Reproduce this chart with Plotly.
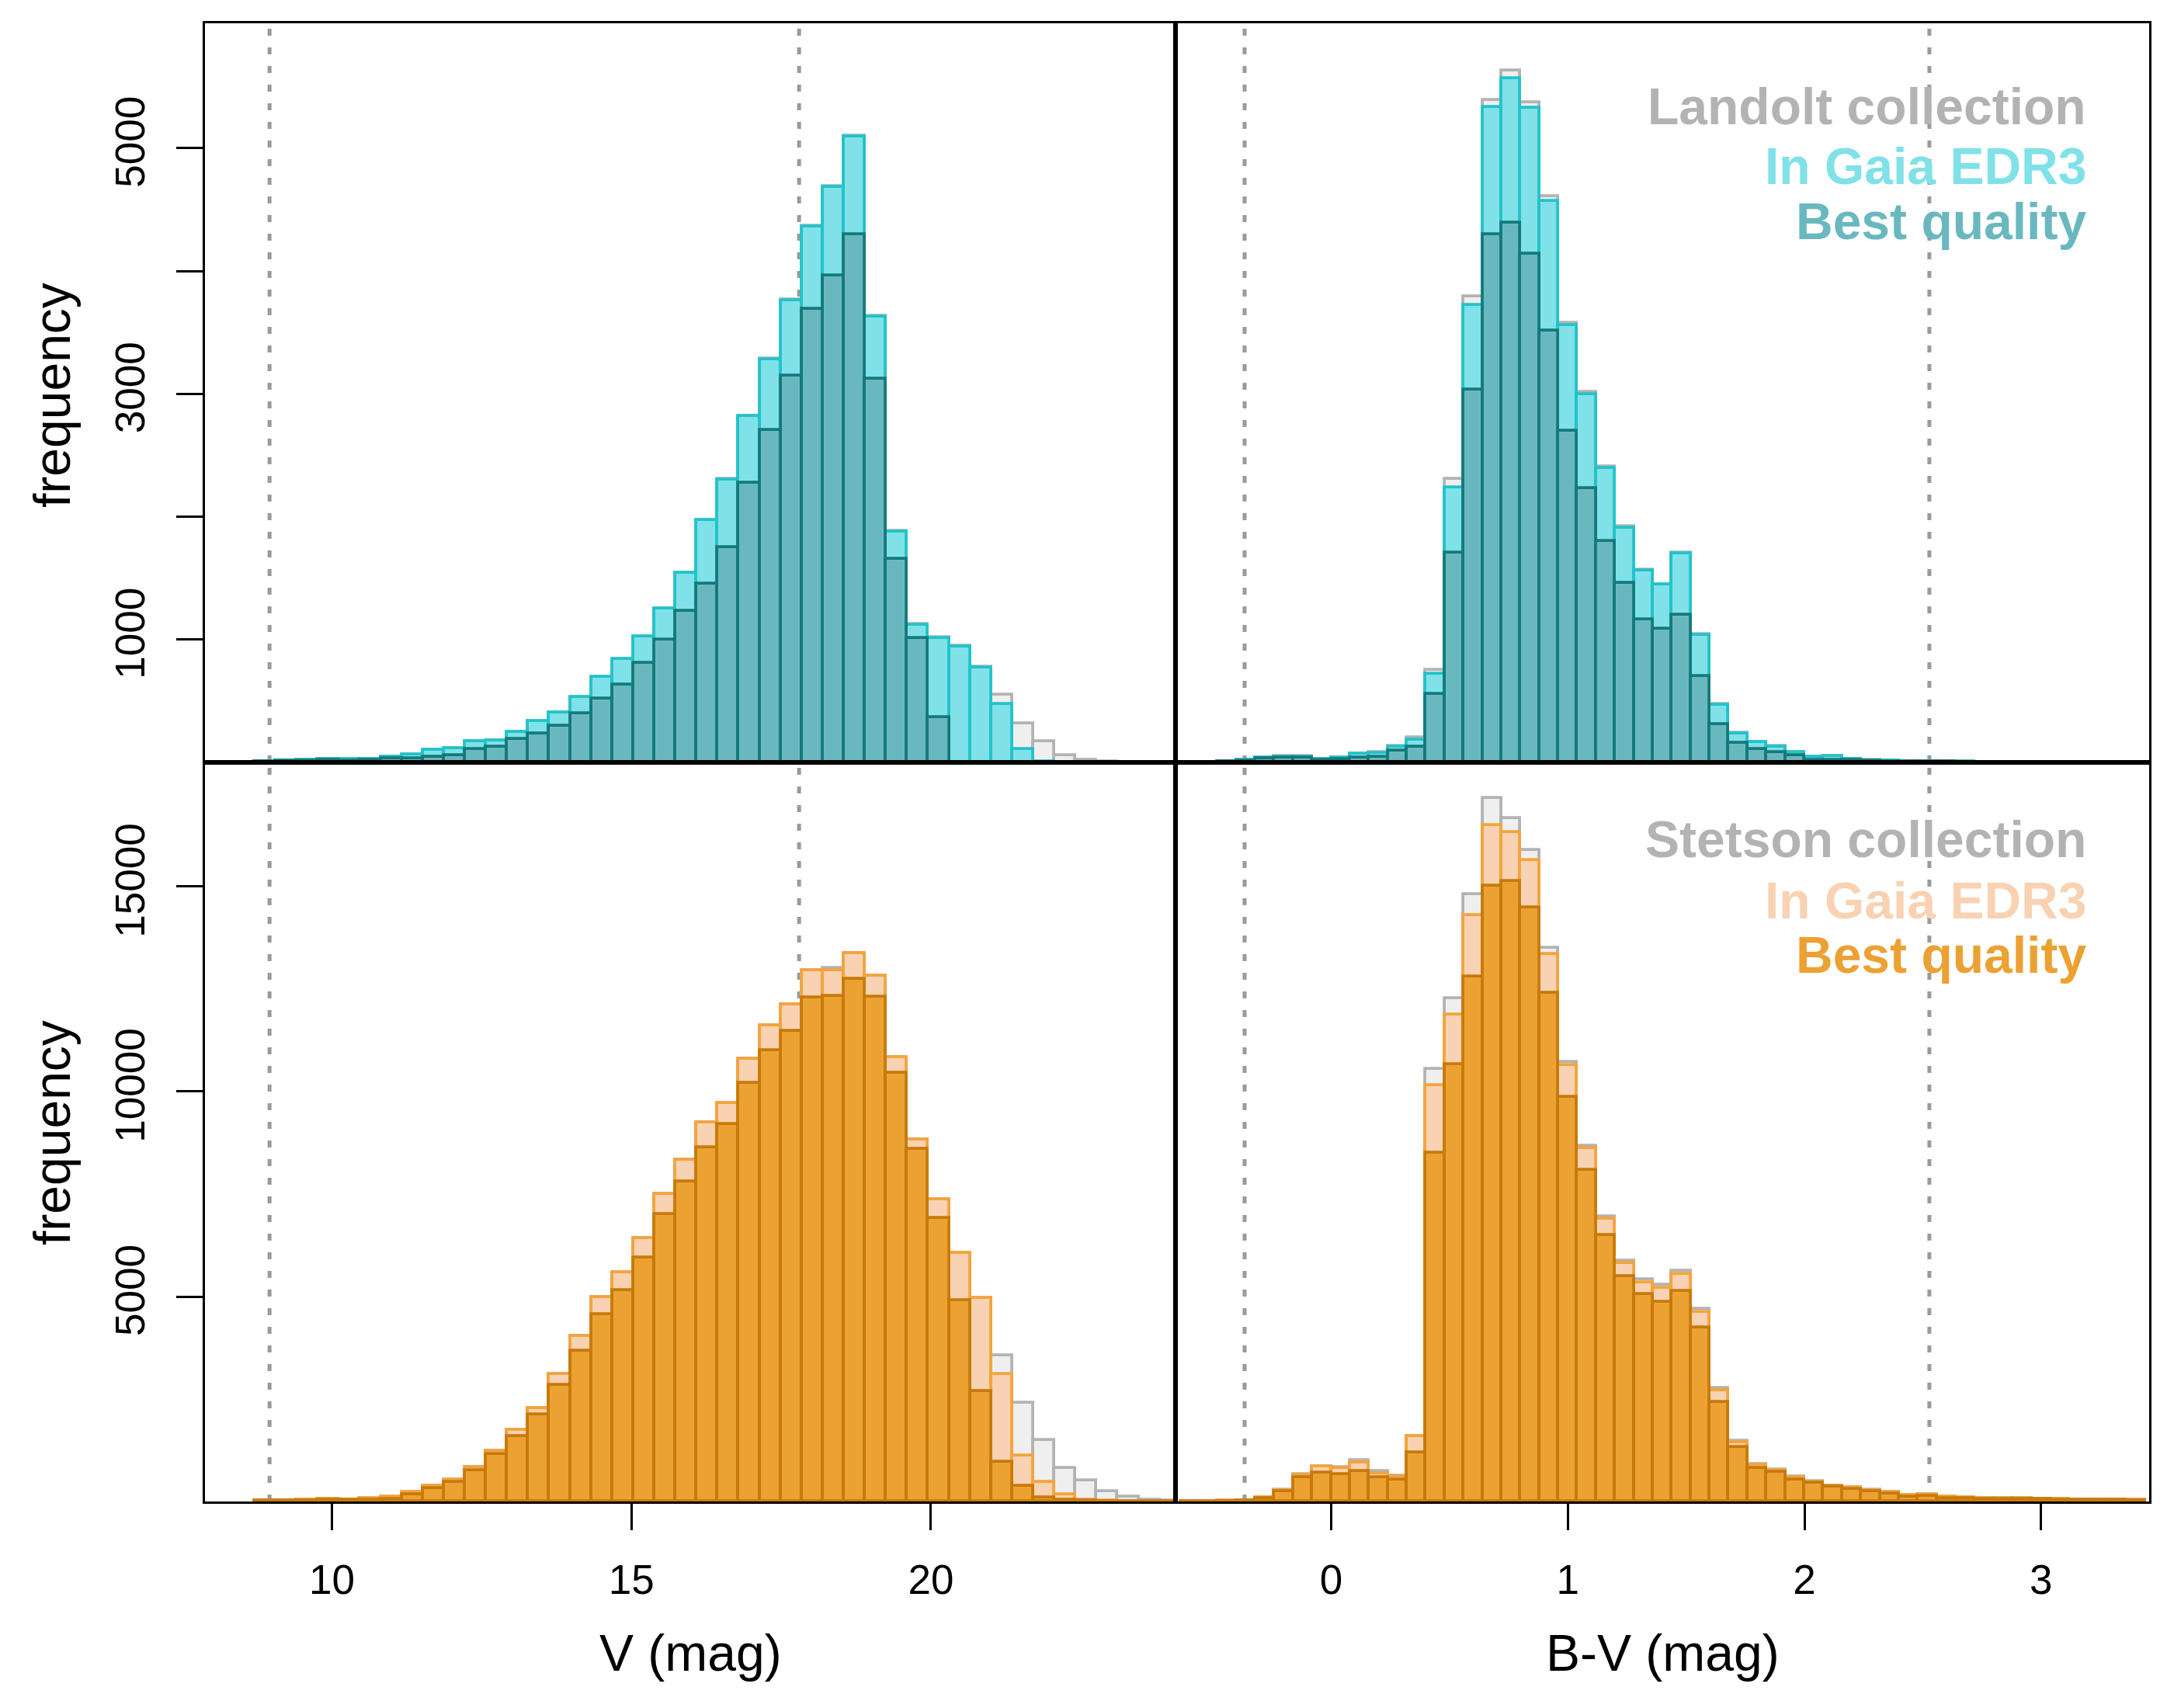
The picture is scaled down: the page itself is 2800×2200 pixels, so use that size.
import numpy as np
import plotly.graph_objects as go

# ---------------- data ----------------
# V (mag) histogram bins: left edges start at 8.71, width 0.3514 mag (44 bins)
V_BIN_START = 8.71
V_BIN_WIDTH = 0.3514
V_NBINS = 44
# B-V (mag) histogram bins: left edges from -0.64, width 0.08 mag (51 bins)
BV_BIN_START = -0.64
BV_BIN_WIDTH = 0.08
BV_NBINS = 51

# Landolt collection (top row)
landolt_v_all = [8, 15, 17, 23, 23, 27, 46, 65, 101, 116, 169, 179, 247, 338, 405, 530, 692, 840, 1023,
                 1250, 1542, 1974, 2304, 2820, 3283, 3769, 4367, 4690, 5102, 3634, 1884, 1122, 1019, 946,
                 776, 551, 318, 171, 54, 16, 4, 0, 0, 0]
landolt_v_gaia = [8, 15, 17, 23, 23, 27, 46, 65, 101, 116, 169, 179, 247, 338, 405, 530, 692, 840, 1023,
                  1249, 1540, 1971, 2300, 2816, 3278, 3763, 4360, 4682, 5093, 3627, 1878, 1117, 1013, 939,
                  768, 473, 109, 4, 0, 0, 0, 0, 0, 0]
landolt_v_best = [6, 11, 13, 17, 15, 17, 30, 32, 46, 59, 110, 127, 190, 236, 300, 395, 517, 633, 808,
                  998, 1230, 1455, 1753, 2273, 2704, 3150, 3689, 3964, 4298, 3119, 1653, 1009, 365, 0,
                  0, 0, 0, 0, 0, 0, 0, 0, 0, 0]

landolt_bv_all = [0, 2, 8, 20, 40, 48, 48, 24, 40, 72, 80, 131, 202, 749, 2308, 3790, 5392, 5632, 5373,
                  4605, 3577, 3014, 2405, 1920, 1566, 1450, 1708, 1040, 472, 238, 164, 131, 85, 47, 50,
                  28, 16, 14, 9, 8, 6, 4, 3, 3, 2, 2, 1, 1, 0, 0, 0]
landolt_bv_gaia = [0, 2, 8, 19, 39, 47, 47, 23, 39, 70, 78, 128, 186, 718, 2238, 3724, 5334, 5567, 5326,
                   4566, 3557, 2995, 2394, 1911, 1558, 1444, 1701, 1034, 468, 236, 162, 129, 84, 46, 49,
                   27, 15, 13, 8, 8, 6, 4, 3, 3, 2, 2, 1, 1, 0, 0, 0]
landolt_bv_best = [0, 0, 5, 15, 31, 39, 39, 19, 27, 35, 47, 97, 128, 559, 1707, 3034, 4298, 4395, 4139,
                   3511, 2696, 2231, 1804, 1462, 1165, 1084, 1203, 703, 310, 160, 105, 84, 57, 21, 21,
                   17, 11, 9, 6, 6, 4, 3, 2, 2, 1, 1, 0, 0, 0, 0, 0]

# Stetson collection (bottom row)
stetson_v_all = [19, 25, 32, 51, 44, 76, 120, 221, 380, 531, 836, 1222, 1741, 2279, 3110, 4033, 4987,
                 5590, 6415, 7508, 8334, 9233, 9724, 10787, 11605, 12130, 12948, 13018, 13380, 12820,
                 10834, 8824, 7364, 6056, 4969, 3567, 2399, 1488, 822, 507, 238, 121, 47, 20]
stetson_v_gaia = [19, 25, 32, 51, 44, 76, 120, 221, 380, 531, 836, 1222, 1741, 2279, 3110, 4033, 4987,
                  5590, 6415, 7508, 8334, 9233, 9724, 10787, 11605, 12130, 12948, 12948, 13380, 12820,
                  10834, 8824, 7364, 6056, 4969, 3100, 1114, 472, 180, 47, 10, 3, 0, 0]
stetson_v_best = [13, 19, 25, 38, 32, 44, 51, 171, 329, 475, 760, 1152, 1595, 2120, 2850, 3666, 4568,
                  5150, 5950, 7010, 7808, 8637, 9198, 10203, 11009, 11476, 12294, 12329, 12738, 12305,
                  10460, 8591, 6920, 4911, 2691, 970, 379, 93, 47, 20, 5, 0, 0, 0]

stetson_bv_all = [6, 6, 10, 21, 102, 278, 655, 858, 835, 997, 740, 620, 1600, 10541, 12270, 14817, 17154,
                  16675, 15892, 13497, 10728, 8672, 6955, 5869, 5420, 5283, 5631, 4701, 2771, 1474, 905,
                  768, 601, 486, 384, 340, 275, 224, 148, 167, 115, 102, 83, 77, 71, 64, 58, 45, 39, 39, 33]
stetson_bv_gaia = [6, 6, 10, 20, 100, 273, 647, 845, 822, 939, 682, 612, 1582, 10144, 11873, 14303, 16499,
                   16324, 15635, 13345, 10646, 8614, 6897, 5822, 5350, 5205, 5543, 4625, 2708, 1430, 892,
                   759, 595, 481, 380, 336, 272, 222, 146, 165, 114, 101, 82, 76, 70, 63, 57, 44, 38, 38, 32]
stetson_bv_best = [5, 5, 8, 15, 85, 238, 589, 705, 670, 740, 589, 530, 1196, 8509, 10658, 12808, 15016,
                   15133, 14490, 12399, 9876, 8088, 6488, 5495, 5055, 4868, 5125, 4239, 2423, 1329, 823,
                   715, 538, 449, 354, 304, 241, 190, 114, 133, 82, 70, 63, 63, 57, 50, 44, 38, 32, 32, 25]

# dotted reference lines
v_cuts = [8.96, 17.8]
bv_cuts = [-0.366, 2.528]

# tick values / labels
top_ytick_vals = [1000, 2000, 3000, 4000, 5000]
top_ytick_text = ["1000", "", "3000", "", "5000"]
bot_ytick_vals = [5000, 10000, 15000]
bot_ytick_text = ["5000", "10000", "15000"]
v_ticks = [10, 15, 20]
bv_ticks = [0, 1, 2, 3]

legend_top = ["Landolt collection", "In Gaia EDR3", "Best quality"]
legend_bot = ["Stetson collection", "In Gaia EDR3", "Best quality"]

# ---------------- styles ----------------
FONT = "Liberation Sans, Arial, Helvetica, sans-serif"
GRAY_FILL, GRAY_LINE = "#efefef", "#b3b3b3"
CYAN_FILL, CYAN_LINE = "#80e1e8", "#22c3c9"
TEAL_FILL, TEAL_LINE = "#6ab8bf", "#137a7c"
PEACH_FILL, PEACH_LINE = "#f8d2b2", "#f4a43c"
ORANGE_FILL, ORANGE_LINE = "#eca133", "#c77a0a"
TOP_LEG_COLORS = ["#b3b3b3", "#80e1e8", "#6ab8bf"]
BOT_LEG_COLORS = ["#b3b3b3", "#f8d2b2", "#eca133"]

# page body has an 8px margin: figure is placed at (8, 8)
OFF = 8
W, H = 2784, 2184
ML, MR, MT, MB = 264 - OFF, 24, 30 - OFF, 258
XSPLIT = (1514 - 264) / (2768 - 264)
V_RANGE = [7.882, 24.084]
BV_RANGE = [-0.658, 3.457]
TOP_YMAX = 6016
BOT_YMAX = 18030

v_centers = V_BIN_START + V_BIN_WIDTH * (np.arange(V_NBINS) + 0.5)
bv_centers = BV_BIN_START + BV_BIN_WIDTH * (np.arange(BV_NBINS) + 0.5)

fig = go.Figure()


def add_hist(centers, width, vals, fill, line, xa, ya):
    fig.add_trace(go.Bar(
        x=centers, y=vals, width=width,
        marker=dict(color=fill, line=dict(color=line, width=3.8)),
        xaxis=xa, yaxis=ya, showlegend=False, hoverinfo="skip"))


panels = [
    (v_centers, V_BIN_WIDTH, [landolt_v_all, landolt_v_gaia, landolt_v_best], "x", "y", "top"),
    (bv_centers, BV_BIN_WIDTH, [landolt_bv_all, landolt_bv_gaia, landolt_bv_best], "x2", "y2", "top"),
    (v_centers, V_BIN_WIDTH, [stetson_v_all, stetson_v_gaia, stetson_v_best], "x3", "y3", "bot"),
    (bv_centers, BV_BIN_WIDTH, [stetson_bv_all, stetson_bv_gaia, stetson_bv_best], "x4", "y4", "bot"),
]
for centers, width, series, xa, ya, row in panels:
    if row == "top":
        styles = [(GRAY_FILL, GRAY_LINE), (CYAN_FILL, CYAN_LINE), (TEAL_FILL, TEAL_LINE)]
    else:
        styles = [(GRAY_FILL, GRAY_LINE), (PEACH_FILL, PEACH_LINE), (ORANGE_FILL, ORANGE_LINE)]
    for vals, (f, l) in zip(series, styles):
        add_hist(centers, width, vals, f, l, xa, ya)

# dotted lines (behind bars)
shapes = []
for xa, ya, cuts in [("x", "y", v_cuts), ("x2", "y2", bv_cuts), ("x3", "y3", v_cuts), ("x4", "y4", bv_cuts)]:
    for c in cuts:
        shapes.append(dict(type="line", xref=xa, yref=ya + " domain", x0=c, x1=c, y0=0, y1=1,
                           layer="below", line=dict(color="#9a9a9a", width=5, dash="9px,15px")))

axis_common = dict(showline=True, linecolor="black", linewidth=3.4, mirror=True, showgrid=False,
                   zeroline=False, tickfont=dict(family=FONT, size=53, color="black"),
                   ticklen=34, tickwidth=3, tickcolor="black")

layout = dict(
    width=W, height=H, margin=dict(l=ML, r=MR, t=MT, b=MB, pad=0),
    paper_bgcolor="white", plot_bgcolor="white", barmode="overlay", bargap=0,
    font=dict(family=FONT, color="black"), showlegend=False, shapes=shapes,
    xaxis=dict(domain=[0, XSPLIT], range=V_RANGE, anchor="y", showticklabels=False, ticks="", **axis_common),
    yaxis=dict(domain=[0.5, 1], range=[0, TOP_YMAX], anchor="x", tickvals=top_ytick_vals,
               ticktext=top_ytick_text, ticks="outside", tickangle=-90, ticklabelstandoff=20, **axis_common),
    xaxis2=dict(domain=[XSPLIT, 1], range=BV_RANGE, anchor="y2", showticklabels=False, ticks="", **axis_common),
    yaxis2=dict(domain=[0.5, 1], range=[0, TOP_YMAX], anchor="x2", showticklabels=False, ticks="", **axis_common),
    xaxis3=dict(domain=[0, XSPLIT], range=V_RANGE, anchor="y3", tickvals=v_ticks, ticks="outside",
                ticklabelstandoff=18, **axis_common),
    yaxis3=dict(domain=[0, 0.5], range=[0, BOT_YMAX], anchor="x3", tickvals=bot_ytick_vals,
                ticktext=bot_ytick_text, ticks="outside", tickangle=-90, ticklabelstandoff=20, **axis_common),
    xaxis4=dict(domain=[XSPLIT, 1], range=BV_RANGE, anchor="y4", tickvals=bv_ticks, ticks="outside",
                ticklabelstandoff=18, **axis_common),
    yaxis4=dict(domain=[0, 0.5], range=[0, BOT_YMAX], anchor="x4", showticklabels=False, ticks="", **axis_common),
)
fig.update_layout(**layout)

PW = W - ML - MR
PH = H - MT - MB


def px_to_paper(x, y):
    # x, y are page pixel positions; convert to paper coords of the plot area
    return (x - OFF - ML) / PW, (OFF + H - MB - y) / PH


ann = []
# axis titles
for (x, y), txt, ang in [((67, 509), "frequency", -90), ((67, 1459), "frequency", -90),
                         ((889, 2129), "V (mag)", 0), ((2141, 2129), "B-V (mag)", 0)]:
    px, py = px_to_paper(x, y)
    ann.append(dict(x=px, y=py, xref="paper", yref="paper", text=txt, textangle=ang, showarrow=False,
                    xanchor="center", yanchor="middle", font=dict(family=FONT, size=66, color="black")))
# legends
for ys, texts, cols in [([137, 214, 285], legend_top, TOP_LEG_COLORS),
                        ([1081, 1160, 1230], legend_bot, BOT_LEG_COLORS)]:
    for y, t, c in zip(ys, texts, cols):
        px, py = px_to_paper(2689, y)
        ann.append(dict(x=px, y=py, xref="paper", yref="paper", text="<b>" + t + "</b>", showarrow=False,
                        xanchor="right", yanchor="middle", font=dict(family=FONT, size=66, color=c)))
fig.update_layout(annotations=ann)

fig.write_html("out.html")
